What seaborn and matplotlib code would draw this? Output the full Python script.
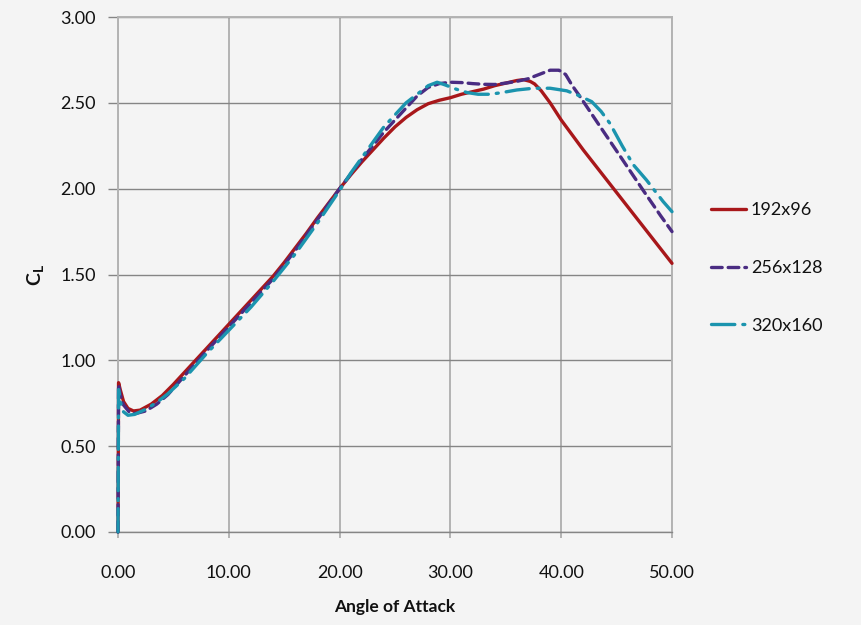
import numpy as np
import pandas as pd
import matplotlib
matplotlib.use("Agg")
import matplotlib.pyplot as plt
import seaborn as sns

# Lift coefficient vs angle of attack for three grid resolutions
aoa_192 = [0, 0.05, 0.2, 0.5, 0.9, 1.4, 2.0, 3.0, 4.0, 5.0, 6.0, 7.0, 8.0, 9.0,
           10.0, 11.0, 12.0, 13.0, 14.0, 15.0, 16.0, 17.0, 18.0, 19.0, 20.0,
           21.0, 22.0, 23.0, 24.0, 25.0, 26.0, 27.0, 28.0, 29.0, 30.0, 31.0,
           32.0, 33.0, 34.0, 35.0, 36.0, 36.6, 37.2, 37.6, 38.2, 39.0, 40.0,
           42.0, 44.0, 46.0, 48.0, 50.0]
cl_192 = [0.0, 0.87, 0.83, 0.76, 0.72, 0.705, 0.71, 0.745, 0.795, 0.86, 0.93,
          1.0, 1.07, 1.14, 1.21, 1.28, 1.35, 1.42, 1.49, 1.57, 1.655, 1.74,
          1.83, 1.915, 2.0, 2.08, 2.155, 2.225, 2.295, 2.36, 2.415, 2.46,
          2.495, 2.515, 2.53, 2.55, 2.565, 2.58, 2.60, 2.615, 2.63, 2.635,
          2.625, 2.61, 2.57, 2.50, 2.40, 2.225, 2.06, 1.895, 1.73, 1.565]

aoa_256 = [0, 0.05, 0.2, 0.5, 1.0, 1.6, 2.5, 3.5, 4.5, 6.0, 8.0, 10.0, 12.0,
           14.0, 16.0, 18.0, 20.0, 22.0, 24.0, 25.0, 26.0, 27.0, 28.0, 29.0,
           30.0, 31.0, 32.0, 33.0, 34.0, 35.0, 36.0, 37.0, 38.0, 39.0, 39.8,
           40.4, 41.0, 41.7, 43.5, 45.0, 47.4, 49.0, 50.0]
cl_256 = [0.0, 0.86, 0.80, 0.74, 0.70, 0.69, 0.705, 0.745, 0.80, 0.91, 1.055,
          1.195, 1.335, 1.475, 1.64, 1.82, 2.0, 2.17, 2.33, 2.40, 2.47, 2.54,
          2.59, 2.612, 2.62, 2.618, 2.612, 2.608, 2.607, 2.615, 2.625, 2.64,
          2.665, 2.69, 2.69, 2.665, 2.60, 2.536, 2.363, 2.22, 1.99, 1.84, 1.75]

aoa_320 = [0, 0.05, 0.2, 0.5, 0.9, 1.5, 2.5, 3.5, 4.5, 6.0, 8.0, 10.0, 12.0,
           14.0, 16.0, 18.0, 20.0, 21.0, 22.0, 23.0, 24.0, 25.0, 26.0, 27.0,
           28.0, 28.8, 29.5, 30.5, 31.5, 32.5, 33.5, 34.5, 36.0, 37.5, 39.0,
           40.5, 41.5, 42.75, 43.6, 44.4, 45.5, 46.5, 47.7, 49.2, 50.0]
cl_320 = [0.0, 0.83, 0.76, 0.70, 0.68, 0.685, 0.715, 0.755, 0.805, 0.895, 1.04,
          1.175, 1.31, 1.46, 1.62, 1.80, 1.99, 2.09, 2.18, 2.27, 2.36, 2.43,
          2.50, 2.55, 2.60, 2.62, 2.605, 2.58, 2.56, 2.55, 2.55, 2.558, 2.575,
          2.585, 2.585, 2.57, 2.545, 2.507, 2.45, 2.38, 2.25, 2.14, 2.05,
          1.925, 1.866]

series_names = ["192x96", "256x128", "320x160"]
x_ticks = [0, 10, 20, 30, 40, 50]
y_ticks = [0.0, 0.5, 1.0, 1.5, 2.0, 2.5, 3.0]

df = pd.concat([
    pd.DataFrame({"aoa": aoa_192, "cl": cl_192, "grid": series_names[0]}),
    pd.DataFrame({"aoa": aoa_256, "cl": cl_256, "grid": series_names[1]}),
    pd.DataFrame({"aoa": aoa_320, "cl": cl_320, "grid": series_names[2]}),
], ignore_index=True)

sns.set_theme(style="white")
plt.rcParams["font.family"] = ["Lato", "DejaVu Sans"]
plt.rcParams["mathtext.fontset"] = "custom"
plt.rcParams["mathtext.rm"] = "Lato"
plt.rcParams["mathtext.bf"] = "Lato:bold"
plt.rcParams["lines.dash_capstyle"] = "round"

bg = "#f4f4f4"
fig = plt.figure(figsize=(8.61, 6.25), dpi=100, facecolor=bg)
ax = fig.add_axes([118 / 861, 1 - 532 / 625, (672 - 118) / 861, (532 - 17) / 625])
ax.set_facecolor(bg)

palette = {"192x96": "#A8171A", "256x128": "#4A2C82", "320x160": "#1B94AE"}
dashes = {"192x96": "", "256x128": (3.2, 1.8), "320x160": (7, 2.4, 0.6, 2.4)}

sns.lineplot(data=df, x="aoa", y="cl", hue="grid", style="grid",
             hue_order=series_names, style_order=series_names,
             palette=palette, dashes=dashes, estimator=None, sort=False,
             linewidth=2.4, ax=ax)
# keep the full stroke width visible along the x = 0 edge
for line in ax.get_lines():
    line.set_clip_on(False)
    line.set_zorder(3)

ax.set_xlim(0, 50)
ax.set_ylim(0, 3)
ax.set_xticks(x_ticks)
ax.set_yticks(y_ticks)
ax.set_xticklabels([f"{v:.2f}" for v in x_ticks])
ax.set_yticklabels([f"{v:.2f}" for v in y_ticks])

# gridlines: darker horizontals, lighter verticals
ax.yaxis.grid(True, color="#858585", linewidth=1.0)
ax.xaxis.grid(True, color="#b3b3b3", linewidth=1.4)
ax.set_axisbelow(True)

for side in ["top", "right", "left"]:
    ax.spines[side].set_visible(True)
    ax.spines[side].set_color("#b3b3b3")
    ax.spines[side].set_linewidth(1.4)
    ax.spines[side].set_zorder(1)
ax.spines["bottom"].set_color("#858585")
ax.spines["bottom"].set_linewidth(1.0)
ax.spines["bottom"].set_zorder(1)

ax.tick_params(axis="y", which="major", direction="out", length=7,
               width=1.0, color="#858585", labelsize=13, pad=9,
               left=True, labelcolor="#111111")
ax.tick_params(axis="x", which="major", direction="out", length=4.5,
               width=1.4, color="#b3b3b3", labelsize=13, pad=19,
               bottom=True, labelcolor="#111111")

ax.set_xlabel("Angle of Attack", fontsize=12.5, fontweight="bold",
              labelpad=13, color="#111111")
ax.set_ylabel(r"$\mathbf{C_L}$", fontsize=14, labelpad=10, color="#111111")

handles, labels = ax.get_legend_handles_labels()
ax.get_legend().remove()
fig.legend(handles, labels, loc="center left",
           bbox_to_anchor=(711 / 861, 1 - 268 / 625), frameon=False,
           fontsize=13, handlelength=1.95, handletextpad=0.25,
           labelspacing=2.3, borderpad=0, borderaxespad=0,
           labelcolor="#111111")

fig.savefig("out.png", dpi=100, facecolor=bg)
